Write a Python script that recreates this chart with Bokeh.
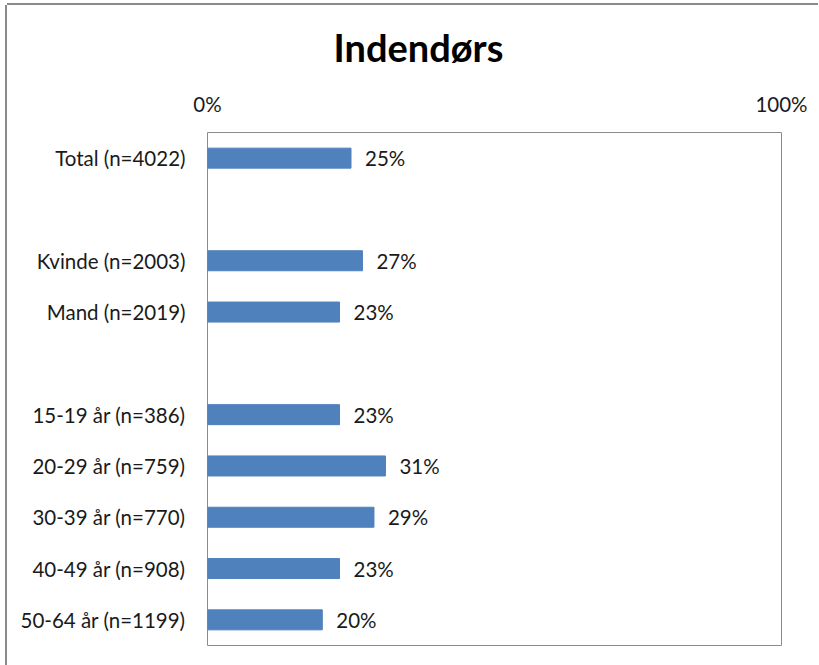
from bokeh.plotting import figure
from bokeh.models import FactorRange, Range1d, ColumnDataSource, FixedTicker, Title
from bokeh.core.properties import value
from bokeh.embed import file_html
from bokeh.resources import INLINE

# ---- data ----
axis_factors = ["Total (n=4022)", " ", "Kvinde (n=2003)", "Mand (n=2019)", "  ",
                "15-19 år (n=386)", "20-29 år (n=759)", "30-39 år (n=770)",
                "40-49 år (n=908)", "50-64 år (n=1199)"]
bar_categories = ["Total (n=4022)", "Kvinde (n=2003)", "Mand (n=2019)",
                  "15-19 år (n=386)", "20-29 år (n=759)", "30-39 år (n=770)",
                  "40-49 år (n=908)", "50-64 år (n=1199)"]
bar_values = [25, 27, 23, 23, 31, 29, 23, 20]
x_ticks = [0, 100]
x_tick_labels = {0: "0%", 100: "100%"}
title_text = "Indendørs"

FONT = "Lato"
TXT = "#1a1a1a"
FS = "20.5px"

src = ColumnDataSource(dict(cat=bar_categories, val=bar_values,
                            lab=[f"{v}%" for v in bar_values]))

p = figure(width=811, height=660, output_backend="svg", toolbar_location=None,
           y_range=FactorRange(factors=list(reversed(axis_factors)), range_padding=0),
           x_range=Range1d(0, 100), x_axis_location="above",
           min_border_left=200, min_border_right=37, min_border_top=127,
           min_border_bottom=20)

p.hbar(y="cat", right="val", left=0, height=0.39, source=src,
       fill_color="#4F81BD", line_color="#4F81BD")
p.text(x="val", y="cat", text="lab", source=src, x_offset=14,
       text_align="left", text_baseline="middle", text_font=value(FONT),
       text_font_size=FS, text_color=TXT)

p.xgrid.visible = False
p.ygrid.visible = False
p.outline_line_color = "#8c8c8c"
p.outline_line_width = 1

xa = p.xaxis[0]
xa.ticker = FixedTicker(ticks=x_ticks)
xa.major_label_overrides = x_tick_labels
xa.axis_line_color = None
xa.major_tick_line_color = None
xa.minor_tick_line_color = None
xa.major_tick_out = 0
xa.major_label_standoff = 17
xa.major_label_text_font = FONT
xa.major_label_text_font_size = FS
xa.major_label_text_color = TXT

ya = p.yaxis[0]
ya.axis_line_color = None
ya.major_tick_line_color = None
ya.minor_tick_line_color = None
ya.major_tick_out = 0
ya.major_label_standoff = 22
ya.major_label_text_font = FONT
ya.major_label_text_font_size = FS
ya.major_label_text_color = TXT

t = Title(text=title_text, align="left", vertical_align="top", text_font=FONT,
          text_font_size="38px", text_font_style="bold", text_color="#000000",
          offset=126, standoff=34)
p.add_layout(t, "above")

p.background_fill_color = "white"
p.border_fill_color = "white"
p.styles = {"position": "relative", "left": "7px", "top": "5px",
            "box-shadow": "-2px 0 0 0 #8a8a8a, 0 -2px 0 0 #8a8a8a"}

open("out.html", "w").write(file_html(p, INLINE))
